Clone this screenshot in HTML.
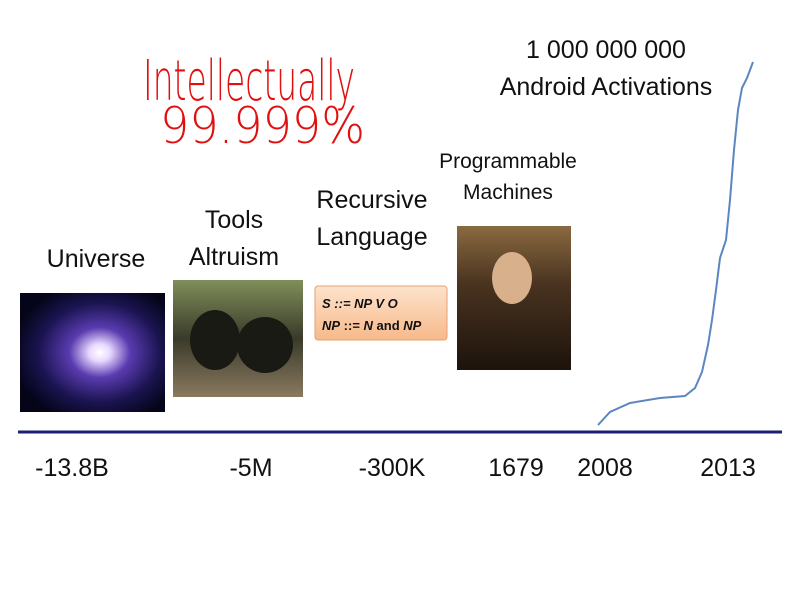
<!DOCTYPE html>
<html><head><meta charset="utf-8"><style>
html,body{margin:0;padding:0;background:#fff;}
svg{display:block;}
text{font-family:"Liberation Sans",sans-serif;}
</style></head><body>
<svg width="800" height="600" viewBox="0 0 800 600">
<defs>
<radialGradient id="u" cx="55%" cy="50%" r="60%">
<stop offset="0" stop-color="#fff"/><stop offset="0.12" stop-color="#e8d8ff"/><stop offset="0.35" stop-color="#5a3bb0"/><stop offset="0.7" stop-color="#1a1450"/><stop offset="1" stop-color="#05051a"/>
</radialGradient>
<linearGradient id="bx" x1="0" y1="0" x2="0" y2="1"><stop offset="0" stop-color="#fde3cc"/><stop offset="1" stop-color="#f7b98a"/></linearGradient>
<linearGradient id="ch" x1="0" y1="0" x2="0" y2="1"><stop offset="0" stop-color="#7f8f5a"/><stop offset="0.5" stop-color="#3a3a2a"/><stop offset="1" stop-color="#8a7a60"/></linearGradient>
<linearGradient id="lb" x1="0" y1="0" x2="0" y2="1"><stop offset="0" stop-color="#8a6a40"/><stop offset="0.4" stop-color="#4a3320"/><stop offset="1" stop-color="#1c130c"/></linearGradient>
</defs>
<text x="96" y="267" font-size="25" text-anchor="middle" fill="#111">Universe</text>
<text x="234" y="228" font-size="25" text-anchor="middle" fill="#111">Tools</text>
<text x="234" y="265" font-size="25" text-anchor="middle" fill="#111">Altruism</text>
<text x="372" y="208" font-size="25" text-anchor="middle" fill="#111">Recursive</text>
<text x="372" y="245" font-size="25" text-anchor="middle" fill="#111">Language</text>
<text x="508" y="168" font-size="21" text-anchor="middle" fill="#111">Programmable</text>
<text x="508" y="199" font-size="21" text-anchor="middle" fill="#111">Machines</text>
<text x="606" y="58" font-size="25" text-anchor="middle" fill="#111">1 000 000 000</text>
<text x="606" y="95" font-size="25" text-anchor="middle" fill="#111">Android Activations</text>
<rect x="20" y="293" width="145" height="119" fill="url(#u)"/>
<rect x="173" y="280" width="130" height="117" fill="url(#ch)"/>
<ellipse cx="215" cy="340" rx="25" ry="30" fill="#1a1a14"/><ellipse cx="265" cy="345" rx="28" ry="28" fill="#1a1a14"/>
<rect x="315" y="286" width="132" height="54" rx="3" fill="url(#bx)" stroke="#e8a070"/>
<text x="322" y="308" font-size="13" font-weight="bold" font-style="italic" fill="#111">S ::= NP V O</text>
<text x="322" y="330" font-size="13" font-weight="bold" fill="#111"><tspan font-style="italic">NP</tspan> ::= <tspan font-style="italic">N</tspan> and <tspan font-style="italic">NP</tspan></text>
<rect x="457" y="226" width="114" height="144" fill="url(#lb)"/>
<ellipse cx="512" cy="278" rx="20" ry="26" fill="#d9b08c"/>
<line x1="18" y1="432" x2="782" y2="432" stroke="#1a1e7a" stroke-width="3"/>
<text x="72" y="476" font-size="25" text-anchor="middle" fill="#111">-13.8B</text>
<text x="251" y="476" font-size="25" text-anchor="middle" fill="#111">-5M</text>
<text x="392" y="476" font-size="25" text-anchor="middle" fill="#111">-300K</text>
<text x="516" y="476" font-size="25" text-anchor="middle" fill="#111">1679</text>
<text x="605" y="476" font-size="25" text-anchor="middle" fill="#111">2008</text>
<text x="728" y="476" font-size="25" text-anchor="middle" fill="#111">2013</text>
<polyline fill="none" stroke="#5b86c0" stroke-width="2" points="598,425 610,412 630,403 660,398 685,396 695,388 702,372 708,345 712,320 716,290 720,258 726,240 730,200 734,150 738,110 742,88 747,78 753,62"/>
<text x="143" y="100" font-size="56" fill="#e01010" textLength="212" lengthAdjust="spacingAndGlyphs" style="font-family:'DejaVu Sans',sans-serif;font-weight:100">Intellectually</text>
<text x="160" y="143" font-size="50" fill="#e01010" textLength="205" lengthAdjust="spacingAndGlyphs" style="font-family:'DejaVu Sans',sans-serif;font-weight:100">99.999%</text>
</svg>
</body></html>
